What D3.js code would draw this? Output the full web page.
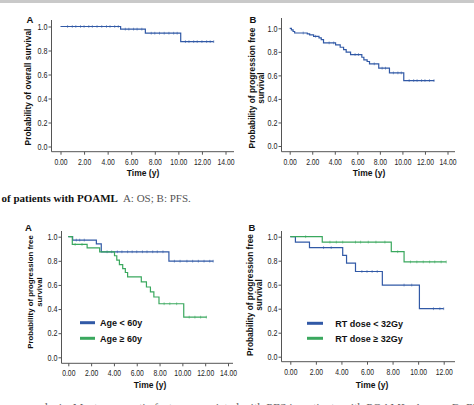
<!DOCTYPE html>
<html><head><meta charset="utf-8">
<script src="https://cdn.jsdelivr.net/npm/d3@7"></script>
<style>body{margin:0;background:#fff}svg{display:block}</style>
</head><body><svg id="c" width="474" height="405"></svg>
<script>
// ---------- DATA ----------
const osTimes = [0, 5.1, 7.2, 10.2, 13.0];
const osSurv  = [1.0, 0.978, 0.944, 0.874, 0.874];
const osCensor = [0.6,1.0,1.3,1.7,2.0,2.4,2.7,3.1,3.5,3.9,4.2,4.6,4.9,5.5,5.8,6.2,6.5,6.9,7.7,8.0,8.4,8.8,9.2,9.6,9.9,10.6,10.9,11.3,11.6,12.0,12.4,12.7,13.0];

const pfsTimes = [0,0.15,0.3,0.44,1.56,1.77,2.12,2.6,2.8,3.0,4.07,4.48,4.78,5.01,5.4,6.4,6.58,6.87,7.08,7.9,8.85,10.12,12.83];
const pfsSurv  = [1.0,0.986,0.973,0.96,0.952,0.944,0.932,0.918,0.904,0.876,0.859,0.839,0.819,0.797,0.777,0.754,0.732,0.718,0.698,0.661,0.621,0.556,0.556];
const pfsCensor = [1.2,2.3,3.5,3.9,5.8,6.1,7.5,8.2,8.5,9.2,9.6,9.9,10.6,11.0,11.3,11.7,12.0,12.4,12.8];

const ageLowTimes = [0,0.38,2.46,2.89,8.82,12.72];
const ageLowSurv  = [1.0,0.972,0.94,0.875,0.797,0.797];
const ageLowCensor = [0.7,1.0,1.4,3.4,3.8,4.3,4.7,5.2,5.6,6.0,6.5,6.9,7.4,7.8,8.3,9.3,9.8,10.4,10.9,11.4,11.9,12.4,12.7];
const ageHighTimes = [0,0.35,1.65,2.75,4.05,4.25,4.48,4.77,5.0,5.2,6.4,6.85,7.2,7.5,7.95,10.12,12.14];
const ageHighSurv  = [1.0,0.936,0.908,0.875,0.842,0.806,0.769,0.736,0.703,0.667,0.625,0.583,0.542,0.50,0.444,0.333,0.333];
const ageHighCensor = [0.6,1.2,8.4,8.9,9.5,10.6,11.1,11.6,12.1];

const rtLowTimes = [0,0.4,1.5,4.1,4.4,5.1,7.2,10.1,12.0];
const rtLowSurv  = [1.0,0.955,0.909,0.845,0.779,0.71,0.597,0.40,0.40];
const rtLowCensor = [2.6,3.2,5.6,6.0,6.4,6.8,8.9,9.5,11.2,11.7,12.0];
const rtHighTimes = [0,2.5,7.9,8.9,12.2];
const rtHighSurv  = [1.0,0.955,0.875,0.79,0.79];
const rtHighCensor = [1.2,3.1,3.6,4.1,5.1,5.5,6.1,6.7,7.4,8.4,9.4,9.9,10.4,10.9,11.3,11.8,12.2];

const xTicks14 = [0,2,4,6,8,10,12,14];
const xTicks12 = [0,2,4,6,8,10,12];
const yTicks = [0,0.2,0.4,0.6,0.8,1.0];
const xTitle = "Time (y)";
const yTitleOS = ["Probability of overall survival"];
const yTitlePFS = ["Probability of progression free","survival"];
const legendAge = ["Age < 60y","Age \u2265 60y"];
const legendRT = ["RT dose < 32Gy","RT dose \u2265 32Gy"];
const captionBold = "of patients with POAML";
const captionRest = "A: OS; B: PFS.";
const bottomText = "analysis. Most prognostic factors associated with PFS in patients with POAML. A: age; B: RT dose.";

// ---------- STYLE ----------
const BLUE = "#3159a6", GREEN = "#3aa85e";
const SANS = "'Liberation Sans', Arial, sans-serif";
const SERIF = "'Liberation Serif', 'Times New Roman', serif";

const svg = d3.select("#c");
svg.append("rect").attr("width",474).attr("height",3).attr("fill","#c9c9c9");

const panels = [
  {dom:14, xr:[60.5,225.5], yr:[146.5,26.5], ax:51.5, ay:151.7, atop:20, aright:234, ticks:xTicks14,
   letter:"A", lp:[26.5,23.3], titles:yTitleOS, tfs:8.4, tcy:87, txs:[31], xt:[143,175.5],
   series:[{t:osTimes,s:osSurv,c:osCensor,col:BLUE}]},
  {dom:14, xr:[289.7,447.5], yr:[146,28.3], ax:281.5, ay:151.7, atop:18, aright:455, ticks:xTicks14,
   letter:"B", lp:[249.5,22.5], titles:yTitlePFS, tfs:8.3, tcy:88, txs:[255,264], xt:[369,175.5],
   series:[{t:pfsTimes,s:pfsSurv,c:pfsCensor,col:BLUE}]},
  {dom:14, xr:[68.3,228], yr:[357.3,236.7], ax:61.5, ay:363.3, atop:231, aright:233, ticks:xTicks14,
   letter:"A", lp:[25,231], titles:yTitlePFS, tfs:7.8, tcy:292, txs:[33,42], xt:[150,388],
   series:[{t:ageLowTimes,s:ageLowSurv,c:ageLowCensor,col:BLUE},{t:ageHighTimes,s:ageHighSurv,c:ageHighCensor,col:GREEN}],
   legend:{labels:legendAge, x1:80, x2:95, ys:[322.7,338.3], tx:100}},
  {dom:12, xr:[290.3,443.7], yr:[356.7,236.7], ax:281.5, ay:361.7, atop:231, aright:455, ticks:xTicks12,
   letter:"B", lp:[248.5,231], titles:yTitlePFS, tfs:8.4, tcy:295, txs:[253,262], xt:[372,388],
   series:[{t:rtLowTimes,s:rtLowSurv,c:rtLowCensor,col:BLUE},{t:rtHighTimes,s:rtHighSurv,c:rtHighCensor,col:GREEN}],
   legend:{labels:legendRT, x1:307, x2:323, ys:[323.3,338.3], tx:335.3}}
];

panels.forEach(p => {
  const x = d3.scaleLinear().domain([0,p.dom]).range(p.xr);
  const y = d3.scaleLinear().domain([0,1]).range(p.yr);
  const g = svg.append("g");

  g.append("line").attr("x1",p.ax).attr("x2",p.ax).attr("y1",p.atop).attr("y2",p.ay)
    .attr("stroke","#555").attr("stroke-width",1);
  g.append("line").attr("x1",p.ax).attr("x2",p.aright).attr("y1",p.ay).attr("y2",p.ay)
    .attr("stroke","#555").attr("stroke-width",1);

  const gy = g.append("g").attr("transform",`translate(${p.ax},0)`)
    .call(d3.axisLeft(y).tickValues(yTicks).tickSize(3).tickPadding(1).tickFormat(d3.format(".1f")));
  gy.select(".domain").remove();
  gy.attr("color","#555").attr("font-family",SANS).attr("font-size",8.8);
  gy.selectAll(".tick text").attr("fill","#222").each(function(){
    const t = d3.select(this); const xx = +t.attr("x");
    t.attr("x",null).attr("transform",`translate(${xx},0) scale(0.82,1)`);
  });

  const gx = g.append("g").attr("transform",`translate(0,${p.ay})`)
    .call(d3.axisBottom(x).tickValues(p.ticks).tickSize(3).tickPadding(4).tickFormat(d3.format(".2f")));
  gx.select(".domain").remove();
  gx.attr("color","#555").attr("font-family",SANS).attr("font-size",8.5);
  gx.selectAll(".tick text").attr("fill","#222").each(function(){
    const t = d3.select(this); const yy = +t.attr("y");
    t.attr("y",null).attr("transform",`translate(0,${yy}) scale(0.8,1)`);
  });

  g.append("text").attr("x",p.xt[0]).attr("y",p.xt[1]).attr("text-anchor","middle")
    .attr("font-family",SANS).attr("font-weight","bold").attr("font-size",8.5).attr("fill","#111").text(xTitle);

  p.titles.forEach((s,i) => {
    g.append("text").attr("transform",`translate(${p.txs[i]},${p.tcy}) rotate(-90)`)
      .attr("text-anchor","middle").attr("font-family",SANS).attr("font-weight","bold")
      .attr("font-size",p.tfs).attr("fill","#111").text(s);
  });

  g.append("text").attr("x",p.lp[0]).attr("y",p.lp[1]).attr("font-family",SANS)
    .attr("font-weight","bold").attr("font-size",9.5).attr("fill","#111").text(p.letter);

  const line = d3.line().x(d=>x(d[0])).y(d=>y(d[1])).curve(d3.curveStepAfter);
  p.series.forEach(sr => {
    const pts = sr.t.map((t,i)=>[t, sr.s[i]]);
    g.append("path").attr("d",line(pts)).attr("fill","none").attr("stroke",sr.col).attr("stroke-width",1.2);
    sr.c.forEach(ct => {
      const idx = Math.max(0, d3.bisectRight(sr.t, ct) - 1);
      const sv = sr.s[idx];
      g.append("line").attr("x1",x(ct)).attr("x2",x(ct)).attr("y1",y(sv)-1.4).attr("y2",y(sv)+1.4)
        .attr("stroke",sr.col).attr("stroke-width",0.7).attr("stroke-opacity",0.8);
    });
  });

  if (p.legend) {
    p.legend.labels.forEach((lab,i) => {
      const col = p.series[i].col;
      g.append("line").attr("x1",p.legend.x1).attr("x2",p.legend.x2)
        .attr("y1",p.legend.ys[i]).attr("y2",p.legend.ys[i]).attr("stroke",col).attr("stroke-width",3);
      g.append("text").attr("x",p.legend.tx).attr("y",p.legend.ys[i]+3.2)
        .attr("font-family",SANS).attr("font-weight","bold").attr("font-size",9).attr("fill","#111").text(lab);
    });
  }
});

const cap = svg.append("text").attr("x",1.5).attr("y",202.3).attr("font-family",SERIF).attr("font-size",11);
cap.append("tspan").attr("font-weight","bold").attr("fill","#111").text(captionBold);
cap.append("tspan").attr("dx",5).attr("fill","#555").text(captionRest);

svg.append("text").attr("x",28).attr("y",411.5).attr("font-family",SERIF).attr("font-size",12)
  .attr("fill","#666").text(bottomText);
</script>
</body></html>
